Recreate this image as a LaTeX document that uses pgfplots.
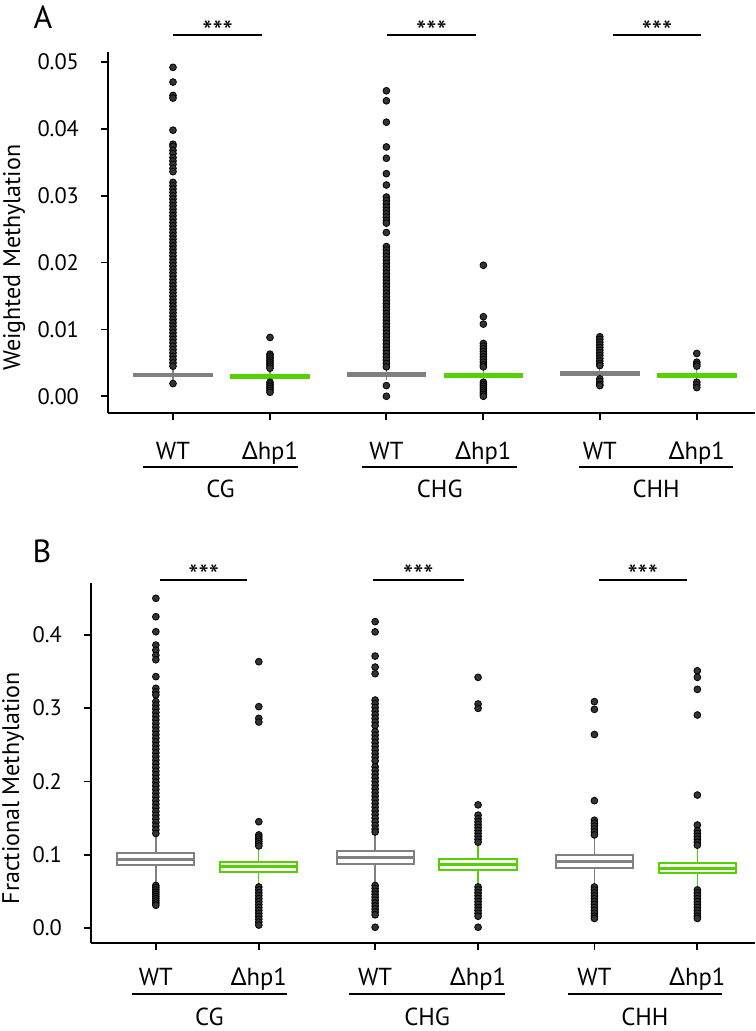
\documentclass[border=0pt]{standalone}
\usepackage{fontspec}
\setmainfont{PT Sans}
\newfontfamily\deltafont{Noto Sans}
\usepackage{pgfplots}
\pgfplotsset{compat=1.18}
\definecolor{wtgray}{HTML}{808080}
\definecolor{hpgreen}{HTML}{55D000}
\definecolor{dotc}{HTML}{333333}

\newcommand{\D}{{\deltafont Δ}}
\newcommand{\fnt}{\fontsize{11.2}{12}\selectfont}

\pgfplotsset{
  meth/.style={
    scale only axis, axis lines=left, clip=false,
    axis line style={-, line width=0.9pt},
    tick align=outside, major tick length=3.5pt,
    tick style={line width=0.9pt, black},
    tick label style={font=\fnt},
    xticklabel style={font=\fontsize{12.3}{13}\selectfont, anchor=base},
    yticklabel style={anchor=east, xshift=-7.5pt},
    label style={font=\fontsize{12}{13}\selectfont},
  },
  dots/.style={only marks, mark=*, mark size=1.7pt, mark options={draw=none, fill=dotc}},
  whisk/.style={line width=0.65pt, fill=none, no marks},
  boxs/.style={line width=1pt, no marks},
  medl/.style={line width=1.5pt, fill=none, no marks},
}
\tikzset{
  sig/.style={line width=0.9pt},
  stars/.style={anchor=base, yshift=-3pt, font=\fontsize{14.5}{15}\selectfont},
  grp/.style={font=\fontsize{12.3}{13}\selectfont},
}
% #1 colour style, #2 x, #3 left, #4 right, #5 lower whisker, #6 q1, #7 median, #8 q3, #9 upper whisker
\newcommand{\bxp}[9]{%
  \addplot[#1, whisk] coordinates {(#2,#5) (#2,#6)};
  \addplot[#1, whisk] coordinates {(#2,#8) (#2,#9)};
  \addplot[#1, boxs] coordinates {(#3,#6) (#4,#6) (#4,#8) (#3,#8)} -- cycle;
  \addplot[#1, medl] coordinates {(#3,#7) (#4,#7)};
}

\begin{document}
\begin{tikzpicture}
\useasboundingbox (0,0) rectangle (377.5pt,-515.5pt);

\node[font=\fontsize{16}{18}\selectfont] at (21.5pt,-8.5pt) {A};
\node[font=\fontsize{16}{18}\selectfont] at (21pt,-275.5pt) {B};

% panel A: weighted methylation
\begin{axis}[meth,
  at={(54pt,-26pt)}, anchor=north west,
  width=323.5pt, height=180.5pt,
  xmin=-0.67, xmax=6.0, ymin=-0.0025, ymax=0.0515,
  xtick={0,1,2.2,3.2,4.4,5.4},
  xticklabels={WT,\D hp1,WT,\D hp1,WT,\D hp1},
  xticklabel style={yshift=-19.5pt},
  ytick={0,0.01,0.02,0.03,0.04,0.05},
  yticklabels={0.00,0.01,0.02,0.03,0.04,0.05},
  scaled y ticks=false,
  ylabel={Weighted Methylation},
  ylabel style={at={(axis description cs:-0.145,0.43)}, anchor=center},
]
\bxp{draw=wtgray, fill=wtgray}{0}{-0.4}{0.4}{0.0022}{0.0030}{0.0032}{0.0034}{0.0042}
\addplot[dots] table[row sep=\\, x expr=0, y index=0] {y\\0.0492\\0.0470\\0.0450\\0.0446\\0.0398\\0.0377\\0.0374\\0.0368\\0.0363\\0.0357\\0.0352\\0.0347\\0.0341\\0.0336\\
  0.0320\\0.0315\\0.0310\\0.0305\\0.0300\\0.0295\\0.0290\\0.0285\\0.0280\\0.0275\\0.0270\\0.0265\\0.0260\\0.0255\\0.0250\\0.0245\\0.0240\\0.0235\\0.0230\\0.0225\\
  0.0220\\0.0215\\0.0210\\0.0205\\0.0200\\0.0195\\0.0190\\0.0185\\0.0180\\0.0175\\0.0170\\0.0165\\0.0160\\0.0155\\0.0150\\0.0145\\0.0140\\0.0135\\0.0130\\0.0125\\
  0.0120\\0.0115\\0.0110\\0.0105\\0.0100\\0.0095\\0.0090\\0.0085\\0.0080\\0.0075\\0.0070\\0.0065\\0.0060\\0.0055\\0.0050\\0.0045\\0.0019\\};
\bxp{draw=hpgreen, fill=hpgreen}{1}{0.6}{1.4}{0.0023}{0.0028}{0.0030}{0.0032}{0.0039}
\addplot[dots] table[row sep=\\, x expr=1, y index=0] {y\\0.0088\\0.0063\\0.0060\\0.0057\\0.0054\\0.0051\\0.0048\\0.0045\\0.0042\\0.0021\\0.0018\\0.0015\\0.0012\\0.0009\\0.0006\\};
\bxp{draw=wtgray, fill=wtgray}{2.2}{1.8}{2.6}{0.0024}{0.0031}{0.0033}{0.0035}{0.0042}
\addplot[dots] table[row sep=\\, x expr=2.2, y index=0] {y\\0.0457\\0.0442\\0.0410\\0.0373\\0.0356\\0.0333\\0.0316\\0.0298\\0.0293\\0.0288\\0.0283\\0.0278\\0.0273\\0.0268\\0.0263\\0.0259\\0.0245\\
  0.0224\\0.0219\\0.0214\\0.0209\\0.0204\\0.0199\\0.0194\\0.0189\\0.0184\\0.0179\\0.0174\\0.0169\\0.0164\\0.0159\\0.0154\\0.0149\\0.0144\\0.0139\\0.0134\\0.0129\\
  0.0124\\0.0119\\0.0114\\0.0109\\0.0104\\0.0099\\0.0094\\0.0089\\0.0084\\0.0079\\0.0074\\0.0069\\0.0064\\0.0059\\0.0054\\0.0049\\0.0044\\0.0016\\0.0000\\};
\bxp{draw=hpgreen, fill=hpgreen}{3.2}{2.8}{3.6}{0.0024}{0.0029}{0.0031}{0.0033}{0.0040}
\addplot[dots] table[row sep=\\, x expr=3.2, y index=0] {y\\0.0196\\0.0119\\0.0108\\0.0079\\0.0075\\0.0071\\0.0067\\0.0063\\0.0059\\0.0055\\0.0051\\0.0047\\0.0044\\
  0.0021\\0.0018\\0.0015\\0.0012\\0.0009\\0.0006\\0.0003\\0.0000\\};
\bxp{draw=wtgray, fill=wtgray}{4.4}{4.0}{4.8}{0.0028}{0.0032}{0.0034}{0.0036}{0.0042}
\addplot[dots] table[row sep=\\, x expr=4.4, y index=0] {y\\0.0089\\0.0085\\0.0081\\0.0077\\0.0073\\0.0069\\0.0065\\0.0061\\0.0057\\0.0053\\0.0049\\0.0046\\0.0026\\0.0022\\0.0018\\0.0016\\};
\bxp{draw=hpgreen, fill=hpgreen}{5.4}{5.0}{5.8}{0.0024}{0.0029}{0.0031}{0.0033}{0.0040}
\addplot[dots] table[row sep=\\, x expr=5.4, y index=0] {y\\0.0064\\0.0051\\0.0048\\0.0045\\0.0021\\0.0017\\0.0013\\};

% significance bars
\draw[sig] (axis cs:0,0.054) -- node[stars]{***} (axis cs:0.92,0.054);
\draw[sig] (axis cs:2.21,0.054) -- node[stars]{***} (axis cs:3.12,0.054);
\draw[sig] (axis cs:4.54,0.054) -- node[stars]{***} (axis cs:5.44,0.054);
% group brackets
\draw[sig] ([yshift=-27pt]axis cs:-0.31,-0.0025) -- ([yshift=-27pt]axis cs:1.29,-0.0025);
\draw[sig] ([yshift=-27pt]axis cs:1.95,-0.0025) -- ([yshift=-27pt]axis cs:3.55,-0.0025);
\draw[sig] ([yshift=-27pt]axis cs:4.19,-0.0025) -- ([yshift=-27pt]axis cs:5.77,-0.0025);
\node[grp] at ([yshift=-38pt]axis cs:0.49,-0.0025) {CG};
\node[grp] at ([yshift=-38pt]axis cs:2.75,-0.0025) {CHG};
\node[grp] at ([yshift=-38pt]axis cs:4.98,-0.0025) {CHH};
\end{axis}

% panel B: fractional methylation
\begin{axis}[meth,
  at={(45.5pt,-291.5pt)}, anchor=north west,
  width=332pt, height=180pt,
  xmin=-0.63, xmax=5.82, ymin=-0.0205, ymax=0.4707,
  xtick={0,1,2.13,3.13,4.26,5.26},
  xticklabels={WT,\D hp1,WT,\D hp1,WT,\D hp1},
  xticklabel style={yshift=-17.5pt},
  ytick={0,0.1,0.2,0.3,0.4},
  yticklabels={0.0,0.1,0.2,0.3,0.4},
  ylabel={Fractional Methylation},
  ylabel style={at={(axis description cs:-0.1175,0.43)}, anchor=center},
]
\bxp{draw=wtgray, fill=white}{0}{-0.375}{0.375}{0.061}{0.0859}{0.0937}{0.1027}{0.127}
\addplot[dots] table[row sep=\\, x expr=0, y index=0] {y\\0.4498\\0.4247\\0.4042\\0.386\\0.379\\0.372\\0.366\\0.343\\0.327\\0.322\\0.318\\
  0.309\\0.304\\0.299\\0.294\\0.289\\0.284\\0.279\\0.274\\0.269\\0.264\\0.259\\0.254\\0.249\\0.244\\0.239\\0.234\\0.229\\0.224\\0.219\\
  0.214\\0.209\\0.204\\0.199\\0.194\\0.189\\0.184\\0.179\\0.174\\0.169\\0.164\\0.159\\0.154\\0.149\\0.144\\0.139\\0.134\\0.129\\
  0.058\\0.055\\0.052\\0.049\\0.046\\0.043\\0.040\\0.037\\0.034\\0.031\\};
\bxp{draw=hpgreen, fill=white}{1}{0.625}{1.375}{0.0587}{0.0768}{0.0837}{0.0905}{0.111}
\addplot[dots] table[row sep=\\, x expr=1, y index=0] {y\\0.3633\\0.302\\0.286\\0.281\\0.145\\0.127\\0.124\\0.121\\0.118\\0.115\\0.112\\
  0.056\\0.052\\0.048\\0.044\\0.040\\0.036\\0.032\\0.028\\0.024\\0.020\\0.016\\0.012\\0.008\\0.004\\};
\bxp{draw=wtgray, fill=white}{2.13}{1.755}{2.505}{0.061}{0.0873}{0.0960}{0.1055}{0.129}
\addplot[dots] table[row sep=\\, x expr=2.13, y index=0] {y\\0.418\\0.404\\0.371\\0.356\\0.347\\
  0.311\\0.306\\0.301\\0.296\\0.291\\0.286\\0.281\\0.276\\0.268\\0.263\\0.258\\0.253\\0.248\\0.243\\0.238\\0.233\\0.228\\0.220\\0.215\\
  0.210\\0.205\\0.200\\0.195\\0.190\\0.185\\0.180\\0.175\\0.170\\0.165\\0.160\\0.155\\0.150\\0.145\\0.140\\0.135\\0.131\\
  0.058\\0.054\\0.050\\0.046\\0.042\\0.038\\0.034\\0.030\\0.026\\0.022\\0.018\\0.001\\};
\bxp{draw=hpgreen, fill=white}{3.13}{2.755}{3.505}{0.0587}{0.079}{0.086}{0.0937}{0.1155}
\addplot[dots] table[row sep=\\, x expr=3.13, y index=0] {y\\0.342\\0.3056\\0.2997\\0.168\\0.154\\0.149\\0.145\\0.141\\0.137\\0.133\\0.129\\0.125\\0.121\\0.117\\
  0.056\\0.052\\0.048\\0.044\\0.040\\0.036\\0.032\\0.028\\0.024\\0.020\\0.016\\0.001\\};
\bxp{draw=wtgray, fill=white}{4.26}{3.885}{4.635}{0.0587}{0.0823}{0.0905}{0.0991}{0.1246}
\addplot[dots] table[row sep=\\, x expr=4.26, y index=0] {y\\0.3088\\0.2983\\0.264\\0.1737\\0.147\\0.143\\0.139\\0.135\\0.131\\0.127\\
  0.056\\0.052\\0.048\\0.044\\0.040\\0.036\\0.032\\0.028\\0.024\\0.020\\0.016\\0.013\\};
\bxp{draw=hpgreen, fill=white}{5.26}{4.885}{5.635}{0.054}{0.0746}{0.0809}{0.0882}{0.111}
\addplot[dots] table[row sep=\\, x expr=5.26, y index=0] {y\\0.351\\0.342\\0.3256\\0.2906\\0.1814\\0.1405\\0.1328\\0.129\\0.125\\0.121\\0.117\\0.113\\
  0.052\\0.048\\0.044\\0.040\\0.036\\0.032\\0.028\\0.024\\0.020\\0.016\\0.013\\};

\draw[sig] (axis cs:0.04,0.4748) -- node[stars]{***} (axis cs:0.89,0.4748);
\draw[sig] (axis cs:2.11,0.4748) -- node[stars]{***} (axis cs:2.99,0.4748);
\draw[sig] (axis cs:4.30,0.4748) -- node[stars]{***} (axis cs:5.16,0.4748);
\draw[sig] ([yshift=-25.5pt]axis cs:-0.23,-0.0205) -- ([yshift=-25.5pt]axis cs:1.27,-0.0205);
\draw[sig] ([yshift=-25.5pt]axis cs:1.88,-0.0205) -- ([yshift=-25.5pt]axis cs:3.39,-0.0205);
\draw[sig] ([yshift=-25.5pt]axis cs:4.0,-0.0205) -- ([yshift=-25.5pt]axis cs:5.5,-0.0205);
\node[grp] at ([yshift=-37pt]axis cs:0.52,-0.0205) {CG};
\node[grp] at ([yshift=-37pt]axis cs:2.635,-0.0205) {CHG};
\node[grp] at ([yshift=-37pt]axis cs:4.75,-0.0205) {CHH};
\end{axis}
\end{tikzpicture}
\end{document}
